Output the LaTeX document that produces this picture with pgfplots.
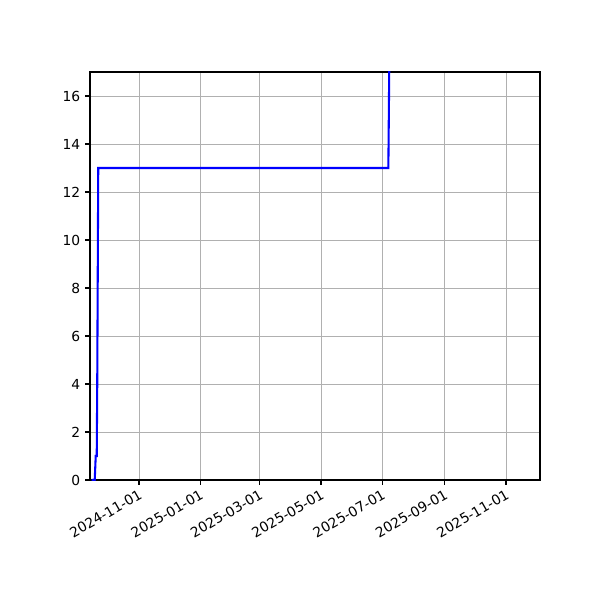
\documentclass[border=0pt]{standalone}
\usepackage{fontspec}
\setmainfont{DejaVu Sans}
\usepackage{pgfplots}
\pgfplotsset{compat=1.18}
\begin{document}
\begin{tikzpicture}
	\useasboundingbox (-0.9in,-1.2in) rectangle (5.1in,4.8in);
	\begin{axis}[
			scale only axis,
			width=4.5in, height=4.08in,
			xmin=-48.7, xmax=398.8,
			ymin=0, ymax=17,
			xtick={0,61,120,181,242,304,365},
			xticklabels={2024-11-01,2025-01-01,2025-03-01,2025-05-01,2025-07-01,2025-09-01,2025-11-01},
			ytick={0,2,4,6,8,10,12,14,16},
			/pgf/number format/assume math mode=true,
			xticklabel style={rotate=30, anchor=north east, font=\normalsize, inner sep=2pt},
			yticklabel style={font=\normalsize},
			tick align=outside,
			tick pos=left,
			major tick length=3.5pt,
			every tick/.style={black, line width=0.8pt},
			axis line style={line width=0.8pt},
			grid=major,
			major grid style={color=black!31, line width=0.6pt},
		]
		\addplot[color=blue, line width=1.5pt] coordinates {
			(-47,0)(-44,0)(-43,1)(-42,1)(-41.5,4)(-40.5,13)(248,13)(249.5,20)
		};
	\end{axis}
\end{tikzpicture}
\end{document}
